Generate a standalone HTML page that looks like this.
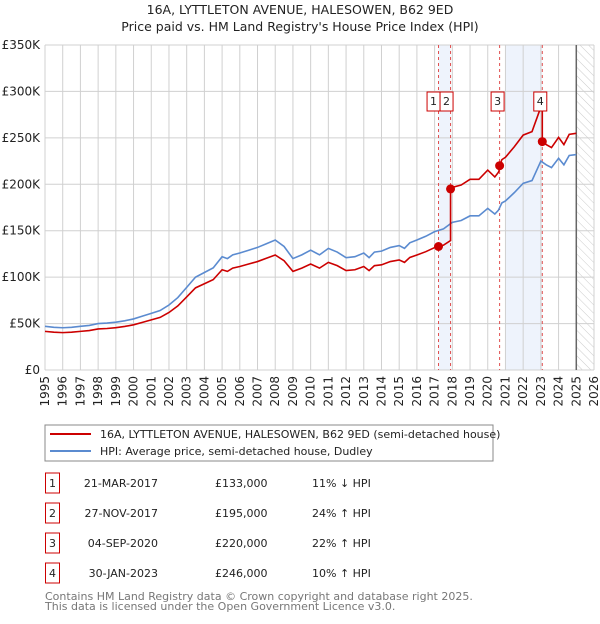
<!DOCTYPE html>
<html><head><meta charset="utf-8"><style>
body{margin:0;background:#fff;font-family:"DejaVu Sans","Liberation Sans",sans-serif;}
svg text{font-family:"DejaVu Sans","Liberation Sans",sans-serif;}
</style></head><body>
<svg width="600" height="620" viewBox="0 0 600 620">
<defs><pattern id="hatch" width="6" height="6" patternUnits="userSpaceOnUse" patternTransform="rotate(-45)"><line x1="0" y1="0" x2="0" y2="6" stroke="#ccc" stroke-width="1"/></pattern></defs>
<text x="300" y="14" text-anchor="middle" font-size="12.5" fill="#222">16A, LYTTLETON AVENUE, HALESOWEN, B62 9ED</text>
<text x="300" y="31" text-anchor="middle" font-size="12.5" fill="#222">Price paid vs. HM Land Registry's House Price Index (HPI)</text>
<g id="plot"></g>
<g>
<rect x="45" y="425" width="448" height="36" fill="#fff" stroke="#888"/>
<line x1="50" y1="434" x2="91" y2="434" stroke="#cc0000" stroke-width="2"/>
<text x="100" y="438" font-size="11" fill="#222">16A, LYTTLETON AVENUE, HALESOWEN, B62 9ED (semi-detached house)</text>
<line x1="50" y1="451" x2="91" y2="451" stroke="#5b8bd0" stroke-width="2"/>
<text x="100" y="455" font-size="11" fill="#222">HPI: Average price, semi-detached house, Dudley</text>
</g>
<g id="table" font-size="11" fill="#222"></g>
<text x="45" y="600" font-size="11" fill="#777">Contains HM Land Registry data © Crown copyright and database right 2025.</text>
<text x="45" y="610" font-size="11" fill="#777">This data is licensed under the Open Government Licence v3.0.</text>
</svg>
<script>
const years=[1995,1995.5,1996,1996.5,1997,1997.5,1998,1998.5,1999,1999.5,2000,2000.5,2001,2001.5,2002,2002.5,2003,2003.5,2004,2004.5,2005,2005.3,2005.6,2006,2006.5,2007,2007.5,2008,2008.5,2009,2009.5,2010,2010.5,2011,2011.5,2012,2012.5,2013,2013.3,2013.6,2014,2014.5,2015,2015.3,2015.6,2016,2016.5,2017,2017.5,2018,2018.5,2019,2019.5,2020,2020.4,2020.6,2020.8,2021,2021.5,2022,2022.5,2023,2023.3,2023.6,2024,2024.3,2024.6,2025];
const hpi=[47,46,45.5,46,47,48,50,50.5,51.5,53,55,58,61,64,70,78,89,100,105,110,122,120,124,126,129,132,136,140,133,120,124,129,124,131,127,121,122,126,121,127,128,132,134,131,137,140,144,149,152,159,161,166,166,174,168,172,180,182,191,201,204,225,221,218,228,221,231,232];
const saleLabels=["1","2","3","4"];
const saleYears=[2017.22,2017.9,2020.67,2023.08];
const salePrices=[133,195,220,246];
const saleDates=["21-MAR-2017","27-NOV-2017","04-SEP-2020","30-JAN-2023"];
const salePriceText=["£133,000","£195,000","£220,000","£246,000"];
const saleDiff=["11% ↓ HPI","24% ↑ HPI","22% ↑ HPI","10% ↑ HPI"];
const yTicks=[0,50,100,150,200,250,300,350];
const yTickLabels=["£0","£50K","£100K","£150K","£200K","£250K","£300K","£350K"];
const ns="http://www.w3.org/2000/svg";
const X0=45,X1=594,Y0=370,Y1=45;
const xs=y=>X0+(y-1995)/(2026-1995)*(X1-X0);
const ys=v=>Y0-v/350*(Y0-Y1);
function mk(tag,attrs,parent){const e=document.createElementNS(ns,tag);for(const k in attrs)e.setAttribute(k,attrs[k]);parent.appendChild(e);return e;}
function hpiAt(t){for(let i=0;i<years.length-1;i++){if(t<=years[i+1]){const f=(t-years[i])/(years[i+1]-years[i]);return hpi[i]+f*(hpi[i+1]-hpi[i]);}}return hpi[hpi.length-1];}
const g=document.getElementById('plot');
let r=mk('rect',{x:xs(saleYears[0]),y:Y1,width:xs(saleYears[1])-xs(saleYears[0]),height:Y0-Y1,fill:'#eef3fc'},g);

r=mk('rect',{x:xs(2021),y:Y1,width:xs(saleYears[3])-xs(2021),height:Y0-Y1,fill:'#eef3fc'},g);

r=mk('rect',{x:xs(2025),y:Y1,width:X1-xs(2025),height:Y0-Y1,fill:'url(#hatch)'},g);

for(let y=1995;y<=2026;y++){const l=mk('line',{x1:xs(y),y1:Y1,x2:xs(y),y2:Y0,stroke:'#d0d0d0','stroke-width':1},g);

const t=mk('text',{x:0,y:0,'font-size':12,fill:'#222','text-anchor':'end',transform:`translate(${xs(y)+4},376) rotate(-90)`},g);t.textContent=y;
}
yTicks.forEach((v,i)=>{const l=mk('line',{x1:X0,y1:ys(v),x2:X1,y2:ys(v),stroke:'#d0d0d0','stroke-width':1},g);

const t=mk('text',{x:40,y:ys(v)+4,'font-size':12,fill:'#222','text-anchor':'end'},g);t.textContent=yTickLabels[i];
});
let l=mk('line',{x1:xs(2025),y1:Y1,x2:xs(2025),y2:Y0,stroke:'#666','stroke-width':1.5},g);

saleYears.forEach((sy,i)=>{const d=mk('line',{x1:xs(sy),y1:Y1,x2:xs(sy),y2:Y0,stroke:'#e05050','stroke-width':1,'stroke-dasharray':'3,3'},g);
});
let p=mk('polyline',{points:years.map((y,i)=>xs(y)+','+ys(hpi[i])).join(' '),fill:'none',stroke:'#5b8bd0','stroke-width':1.6},g);

const pts=[];
const tl=years.concat(saleYears).sort((a,b)=>a-b);
const ratios=saleYears.map((s,i)=>salePrices[i]/hpiAt(s));
tl.forEach(t=>{let k=0;for(let i=0;i<saleYears.length;i++)if(t>=saleYears[i])k=i;
if(saleYears.includes(t)){const i=saleYears.indexOf(t);if(i>0)pts.push(xs(t)+','+ys(hpiAt(t)*ratios[i-1]));pts.push(xs(t)+','+ys(salePrices[i]));}
else pts.push(xs(t)+','+ys(hpiAt(t)*ratios[k]));});
p=mk('polyline',{points:pts.join(' '),fill:'none',stroke:'#cc0000','stroke-width':1.6},g);

const box2=xs(saleYears[1])-4;
saleYears.forEach((sy,i)=>{const c=mk('circle',{cx:xs(sy),cy:ys(salePrices[i]),r:4.5,fill:'#cc0000'},g);

const lx=(i===0?box2-13:i===1?box2:xs(sy)-2);
const b=mk('rect',{x:lx-6.5,y:92,width:13,height:19,fill:'#fff',stroke:'#cc0000','stroke-width':1},g);

const t=mk('text',{x:lx,y:105,'font-size':11,fill:'#222','text-anchor':'middle'},g);t.textContent=saleLabels[i];
});
const tb=document.getElementById('table');
saleLabels.forEach((s,i)=>{const cy=483+i*30;
const b=mk('rect',{x:45.5,y:cy-10,width:14,height:20,fill:'#fff',stroke:'#cc0000','stroke-width':1},tb);

let t=mk('text',{x:52.5,y:cy+4,'text-anchor':'middle'},tb);t.textContent=s;
t=mk('text',{x:158,y:cy+4,'text-anchor':'end'},tb);t.textContent=saleDates[i];
t=mk('text',{x:215,y:cy+4},tb);t.textContent=salePriceText[i];
t=mk('text',{x:312,y:cy+4},tb);t.textContent=saleDiff[i];});
</script>
</body></html>
